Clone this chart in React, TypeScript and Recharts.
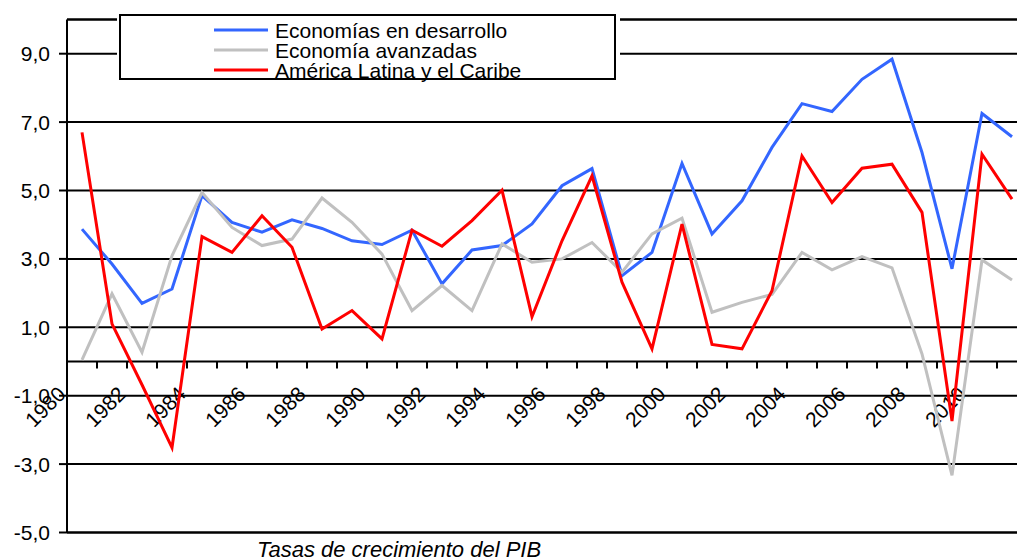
import { LineChart, Line, XAxis, YAxis, CartesianGrid, ReferenceLine } from 'recharts';

const years = [
  '1980', '1981', '1982', '1983', '1984', '1985', '1986', '1987', '1988', '1989',
  '1990', '1991', '1992', '1993', '1994', '1995', '1996', '1997', '1998', '1999',
  '2000', '2001', '2002', '2003', '2004', '2005', '2006', '2007', '2008', '2009',
  '2010', '2011',
];

// Economías en desarrollo
const desarrollo = [
  3.87, 2.85, 1.7, 2.12, 4.85, 4.07, 3.78, 4.14, 3.89, 3.53,
  3.42, 3.84, 2.27, 3.26, 3.39, 4.02, 5.14, 5.64, 2.51, 3.19,
  5.79, 3.73, 4.7, 6.26, 7.54, 7.31, 8.25, 8.84, 6.11, 2.71,
  7.25, 6.57,
];

// Economía avanzadas
const avanzadas = [
  0.05, 1.98, 0.27, 3.09, 4.94, 3.92, 3.39, 3.58, 4.78, 4.07,
  3.14, 1.49, 2.22, 1.49, 3.44, 2.9, 3.0, 3.48, 2.61, 3.73,
  4.19, 1.44, 1.73, 1.96, 3.19, 2.68, 3.07, 2.74, 0.22, -3.33,
  2.97, 2.38,
];

// América Latina y el Caribe
const latina = [
  6.7, 1.1, -0.68, -2.52, 3.65, 3.19, 4.26, 3.34, 0.95, 1.49,
  0.66, 3.84, 3.37, 4.12, 5.01, 1.31, 3.53, 5.43, 2.32, 0.37,
  4.02, 0.5, 0.37, 2.07, 6.01, 4.65, 5.65, 5.77, 4.36, -1.74,
  6.06, 4.75,
];

const yTicks = [-5, -3, -1, 1, 3, 5, 7, 9];

const series = [
  { key: 'desarrollo', name: 'Economías en desarrollo', color: '#3366FF' },
  { key: 'avanzadas', name: 'Economía avanzadas', color: '#C0C0C0' },
  { key: 'latina', name: 'América Latina y el Caribe', color: '#FF0000' },
];

const caption = 'Tasas de crecimiento del PIB';

const data = years.map((year, i) => ({
  year,
  desarrollo: desarrollo[i],
  avanzadas: avanzadas[i],
  latina: latina[i],
}));

const FONT = '"Liberation Sans", Arial, sans-serif';

// zero line with the category ticks and the rotated year labels
function ZeroAxis(props: any) {
  const { x1, x2, y1 } = props;
  const band = (x2 - x1) / years.length;
  return (
    <g>
      <line x1={x1} y1={y1} x2={x2} y2={y1} stroke="#000" strokeWidth={2} />
      {years.slice(1).map((_, i) => {
        const x = x1 + (i + 1) * band;
        return <line key={'t' + i} x1={x} x2={x} y1={y1} y2={y1 + 7} stroke="#000" strokeWidth={2} />;
      })}
      {years.map((yr, i) => {
        if (i % 2) return null;
        const x = x1 + (i + 0.5) * band - 15;
        const y = y1 + 34;
        return (
          <text
            key={yr}
            x={x}
            y={y}
            textAnchor="end"
            transform={`rotate(-45 ${x} ${y})`}
            fontSize={21}
            fontFamily={FONT}
            fill="#000"
          >
            {yr}
          </text>
        );
      })}
    </g>
  );
}

export default function App() {
  return (
    <div style={{ position: 'relative', width: 1040, height: 558 }}>
      <style>{'body{margin:0;overflow:hidden}'}</style>
      <LineChart width={1040} height={558} data={data} margin={{ top: 19.5, right: 13, bottom: 25.5, left: 0 }}>
        <CartesianGrid vertical={false} stroke="#000" strokeWidth={2} />
        <XAxis dataKey="year" hide padding={{ left: 15, right: 15 }} />
        <YAxis
          domain={[-5, 10]}
          ticks={yTicks}
          width={67}
          axisLine={{ stroke: '#000', strokeWidth: 2 }}
          tickLine={{ stroke: '#000', strokeWidth: 2 }}
          tickSize={8}
          tickMargin={9}
          tick={{ fill: '#000', fontSize: 21, fontFamily: FONT }}
          tickFormatter={(v: number) => v.toFixed(1).replace('.', ',')}
        />
        <ReferenceLine y={10} stroke="#000" strokeWidth={2} />
        <ReferenceLine y={-5} stroke="#000" strokeWidth={2} />
        <ReferenceLine y={0} shape={ZeroAxis} />
        {series.map(s => (
          <Line
            key={s.key}
            type="linear"
            dataKey={s.key}
            name={s.name}
            stroke={s.color}
            strokeWidth={3}
            dot={false}
            isAnimationActive={false}
          />
        ))}
      </LineChart>
      <svg style={{ position: 'absolute', left: 0, top: 0 }} width={1040} height={558}>
        <rect x={117} y={13} width={503} height={68} fill="#fff" />
        <rect x={120} y={15} width={495} height={64} fill="#fff" stroke="#000" strokeWidth={2} />
        {series.map((s, i) => (
          <g key={s.key}>
            <line x1={214} x2={268} y1={30 + i * 20} y2={30 + i * 20} stroke={s.color} strokeWidth={3} />
            <text x={275} y={38 + i * 20} fontSize={21} fontFamily={FONT} fill="#000">
              {s.name}
            </text>
          </g>
        ))}
        <text x={257} y={557} fontSize={22} fontStyle="italic" fontFamily={FONT} fill="#000">
          {caption}
        </text>
      </svg>
    </div>
  );
}
